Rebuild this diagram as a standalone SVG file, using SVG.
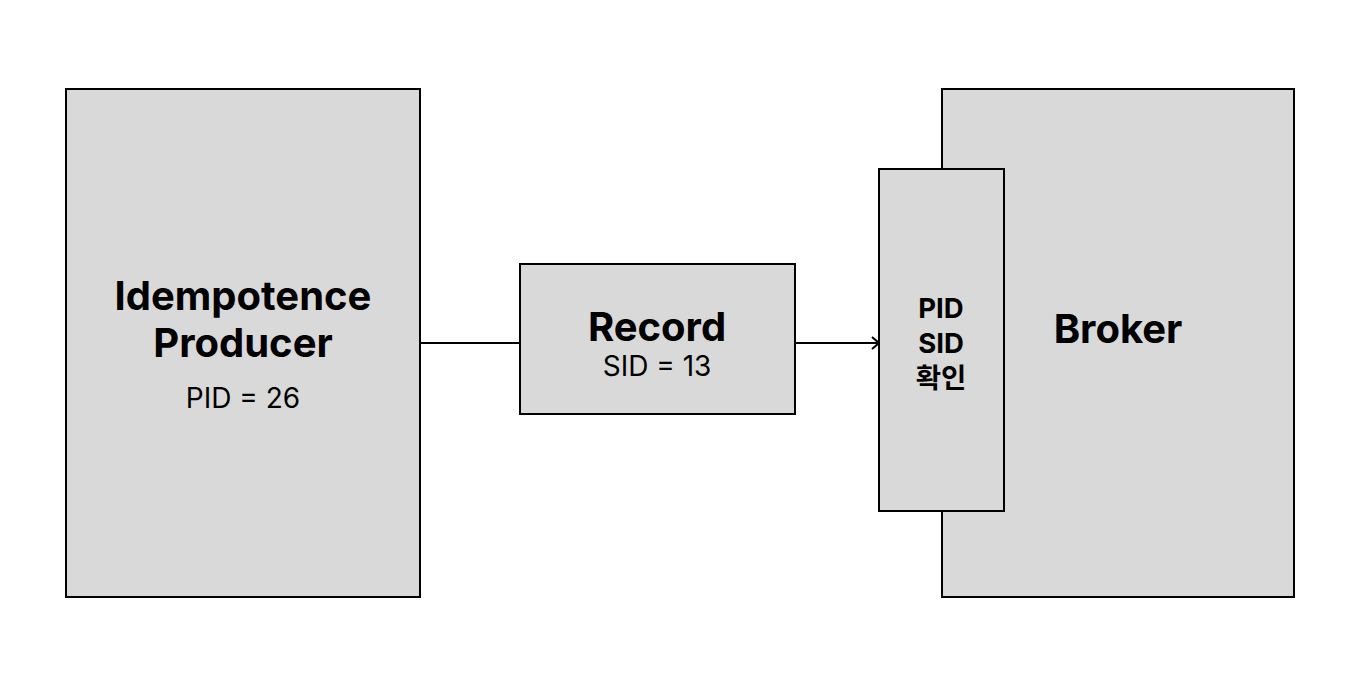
<svg xmlns="http://www.w3.org/2000/svg" width="1360" height="686" viewBox="0 0 1360 686">
<style>
.box{fill:#d9d9d9;stroke:#000;stroke-width:2}
.t{font-family:Inter,"Noto Sans CJK KR",sans-serif;fill:#000;text-anchor:middle}
.b{font-weight:700;font-size:40px}
.r{font-weight:400;font-size:28px}
.s{font-weight:700;font-size:27.5px}
.ln{stroke:#000;stroke-width:2;fill:none}
</style>
<defs>
<marker id="arr" viewBox="0 0 10 14" refX="9" refY="7" markerWidth="10" markerHeight="14" markerUnits="userSpaceOnUse" orient="auto">
<path d="M2 1 L9 7 L2 13" fill="none" stroke="#000" stroke-width="2"/>
</marker>
</defs>
<rect width="1360" height="686" fill="#fff"/>
<g id="producer">
<rect class="box" x="66" y="89" width="354" height="508"/>
<text class="t b" x="243" y="310">Idempotence</text>
<text class="t b" x="243" y="357">Producer</text>
<text class="t r" x="243" y="408">PID = 26</text>
</g>
<g id="record">
<rect class="box" x="520" y="264" width="275" height="150"/>
<text class="t b" x="657" y="341">Record</text>
<text class="t r" x="657" y="376">SID = 13</text>
</g>
<g id="broker">
<rect class="box" x="942" y="89" width="352" height="508"/>
<text class="t b" x="1118" y="343">Broker</text>
</g>
<g id="check">
<rect class="box" x="879" y="169" width="125" height="342"/>
<text class="t s" x="941" y="318">PID</text>
<text class="t s" x="941" y="353">SID</text>
<text class="t s" x="941" y="388">확인</text>
</g>
<g id="connectors">
<line class="ln" x1="420" y1="343" x2="520" y2="343"/>
<line class="ln" x1="795" y1="343" x2="879" y2="343" marker-end="url(#arr)"/>
</g>
</svg>
